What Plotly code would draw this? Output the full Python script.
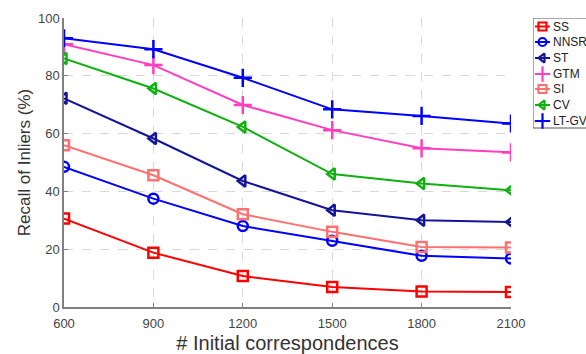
import plotly.graph_objects as go

# Number of initial correspondences
x_vals = [600, 900, 1200, 1500, 1800, 2100]

# Recall of inliers (%) for each method
ss = [30.6, 18.8, 10.7, 6.9, 5.4, 5.2]
nnsr = [48.5, 37.5, 28.0, 22.9, 17.7, 16.8]
st = [72.2, 58.3, 43.6, 33.5, 30.0, 29.4]
gtm = [90.9, 83.7, 69.9, 61.2, 54.9, 53.5]
si = [56.0, 45.6, 32.1, 26.0, 20.8, 20.6]
cv = [86.0, 75.6, 62.3, 46.0, 42.7, 40.4]
ltgv = [93.0, 89.2, 79.3, 68.4, 66.1, 63.5]

x_ticks = [600, 900, 1200, 1500, 1800, 2100]
y_ticks = [0, 20, 40, 60, 80, 100]

series = [
    ("SS", ss, "#ff0000", "square-open"),
    ("NNSR", nnsr, "#0000ff", "circle-open"),
    ("ST", st, "#14149a", "triangle-left-open"),
    ("GTM", gtm, "#ff3fbf", "cross-thin-open"),
    ("SI", si, "#ff7070", "square-open"),
    ("CV", cv, "#10b010", "triangle-left-open"),
    ("LT-GV", ltgv, "#0000ff", "cross-thin-open"),
]

W, H = 586, 354
ML, MT, MB = 64, 18, 47
PLOT_RIGHT = 511          # right edge of the data area, px
LEG_LEFT = 533            # left edge of the legend box, px
span = W - ML

FONT = "Liberation Sans, Arial, Helvetica, sans-serif"

fig = go.Figure()
for name, vals, color, symbol in series:
    size = 13 if "cross" in symbol else 10
    fig.add_trace(go.Scatter(
        x=x_vals, y=vals, name=name, mode="lines+markers",
        line=dict(color=color, width=2),
        marker=dict(symbol=symbol, size=size, color=color,
                    line=dict(color=color, width=2.5)),
        showlegend=False, xaxis="x", yaxis="y",
    ))

# Compact legend drawn in a pixel-scaled auxiliary subplot at the right
row_y = [26.5, 42, 58, 74, 89, 105, 121]
for (name, vals, color, symbol), ry in zip(series, row_y):
    size = 11 if "cross" in symbol else 8
    fig.add_trace(go.Scatter(
        x=[535, 550], y=[ry, ry], mode="lines",
        line=dict(color=color, width=2), showlegend=False,
        hoverinfo="skip", xaxis="x2", yaxis="y2",
    ))
    fig.add_trace(go.Scatter(
        x=[542.5], y=[ry], mode="markers",
        marker=dict(symbol=symbol, size=size, color=color,
                    line=dict(color=color, width=2.2)),
        showlegend=False, hoverinfo="skip", xaxis="x2", yaxis="y2",
        cliponaxis=False,
    ))
    fig.add_annotation(
        x=550.5, y=ry, xref="x2", yref="y2", text=name, showarrow=False,
        xanchor="left", yanchor="middle",
        font=dict(family=FONT, size=12, color="#222222"),
    )
fig.add_shape(type="rect", xref="x2", yref="y2", x0=533, x1=592, y0=18, y1=128,
              line=dict(color="#555555", width=1), fillcolor="rgba(0,0,0,0)", layer="below")

axis_font = dict(family=FONT, size=13, color="#444444")
fig.update_layout(
    width=W, height=H,
    margin=dict(l=ML, r=0, t=MT, b=MB, autoexpand=False),
    paper_bgcolor="white", plot_bgcolor="white",
    showlegend=False,
    xaxis=dict(
        domain=[0, (PLOT_RIGHT - ML) / span],
        range=[600, 2100], tickvals=x_ticks, ticktext=[str(v) for v in x_ticks],
        showline=True, linecolor="#808080", linewidth=1.5,
        ticks="inside", ticklen=4, tickcolor="#808080",
        showgrid=True, gridcolor="#d8d8d8", griddash="dash", gridwidth=1,
        zeroline=False, tickfont=axis_font, ticklabelstandoff=4,
        title=dict(text="# Initial correspondences", standoff=6,
                   font=dict(family=FONT, size=20, color="#333333")),
    ),
    yaxis=dict(
        range=[0, 100], tickvals=y_ticks,
        showline=True, linecolor="#808080", linewidth=1.5,
        ticks="inside", ticklen=4, tickcolor="#808080",
        showgrid=True, gridcolor="#d8d8d8", griddash="dash", gridwidth=1,
        zeroline=False, tickfont=axis_font,
        title=dict(text="Recall of Inliers (%)", standoff=3,
                   font=dict(family=FONT, size=17, color="#333333")),
    ),
    xaxis2=dict(domain=[(LEG_LEFT - ML) / span, 1], range=[LEG_LEFT, W],
                visible=False, fixedrange=True),
    yaxis2=dict(domain=[0, 1], range=[H - MB, MT], anchor="x2",
                visible=False, fixedrange=True),
)

fig.write_html("out.html")
